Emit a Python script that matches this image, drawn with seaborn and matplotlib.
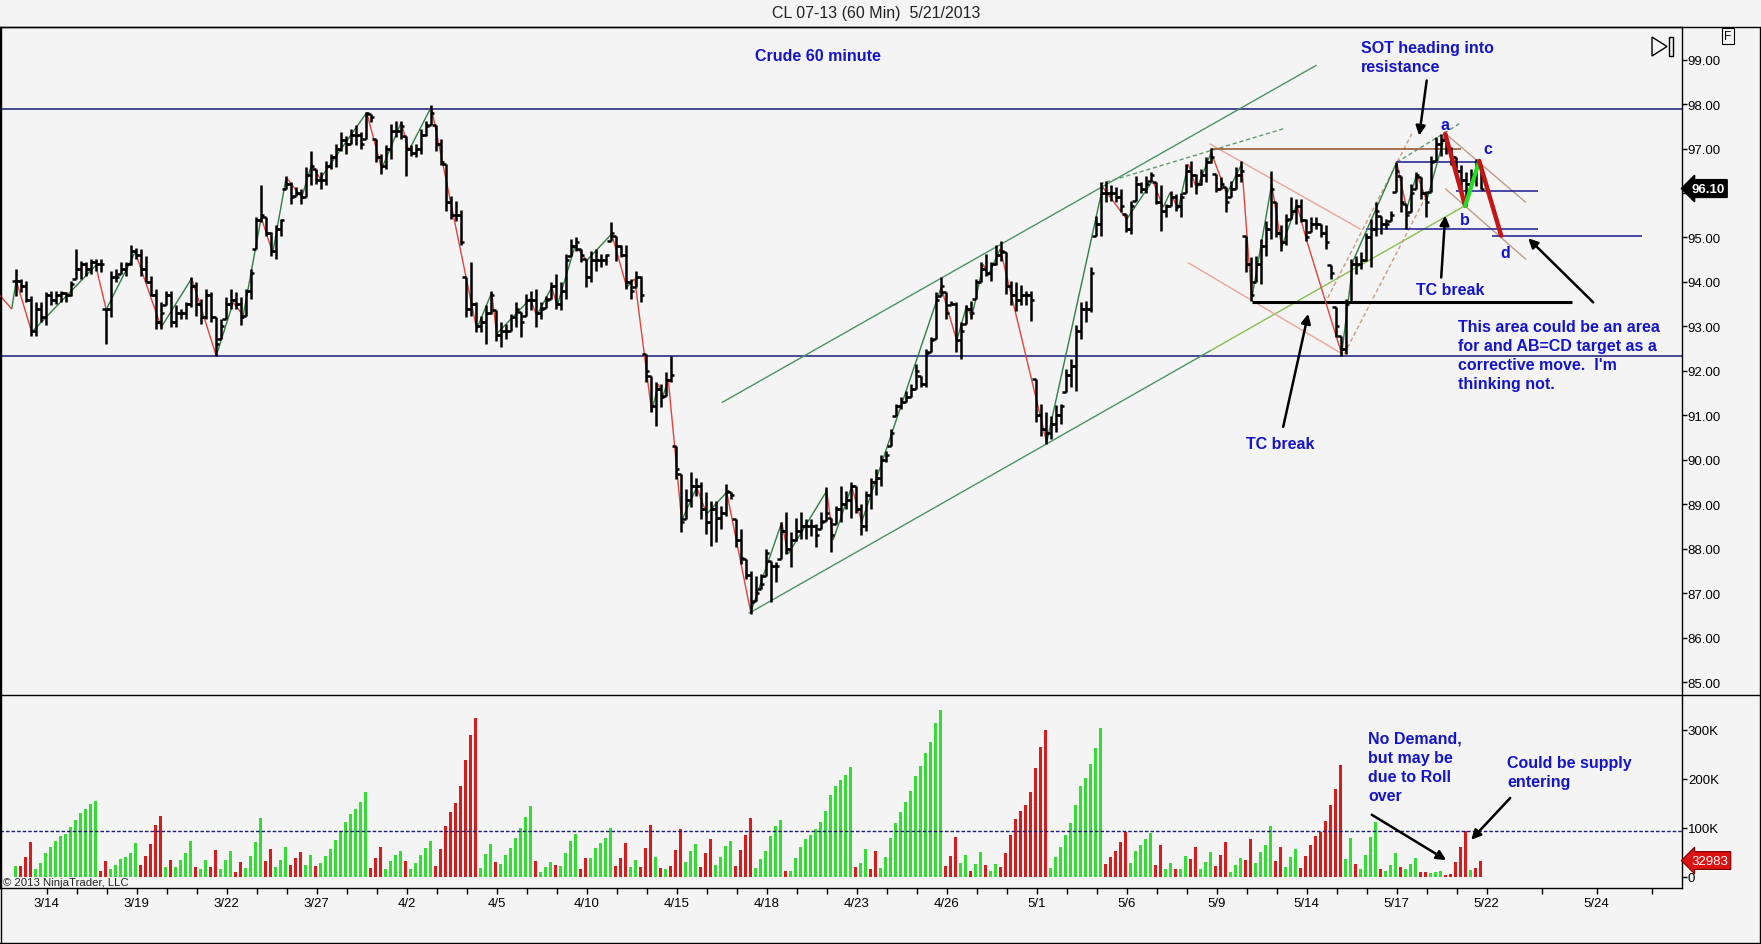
import numpy as np
import pandas as pd
import matplotlib
matplotlib.use('Agg')
import matplotlib.pyplot as plt
import seaborn as sns
from matplotlib.collections import LineCollection
from matplotlib.patches import Polygon, Rectangle
from matplotlib.lines import Line2D

# ---------------------------------------------------------------
# CL 07-13, 60 minute bars (pit session, 6 bars a day), 3/13 .. 5/21
# values, one entry per bar
# ---------------------------------------------------------------
bar_high = [
    94.29, 94.07, 94.03, 93.69, 93.54, 93.54, 93.77, 93.80, 93.80, 93.80,
    93.77, 94.03, 94.74, 94.48, 94.44, 94.52, 94.52, 94.52, 93.39, 94.25,
    94.29, 94.44, 94.44, 94.82, 94.76, 94.74, 94.59, 94.14, 93.84, 93.54,
    93.80, 93.80, 93.47, 93.39, 93.54, 94.10, 93.99, 93.62, 93.84, 93.77,
    93.21, 93.17, 93.65, 93.84, 93.77, 93.65, 93.84, 94.29, 95.45, 96.17,
    95.45, 95.12, 95.27, 95.42, 96.39, 96.24, 96.13, 96.09, 96.58, 96.95,
    96.54, 96.47, 96.73, 96.88, 97.10, 97.37, 97.29, 97.44, 97.52, 97.37,
    97.83, 97.78, 97.22, 96.88, 97.07, 97.55, 97.63, 97.63, 97.29, 97.07,
    97.10, 97.44, 97.63, 97.97, 97.52, 97.22, 96.65, 95.94, 95.83, 95.61,
    94.11, 94.44, 93.54, 93.24, 93.47, 93.80, 93.36, 93.09, 93.05, 93.28,
    93.54, 93.32, 93.73, 93.80, 93.84, 93.54, 93.69, 93.99, 94.18, 93.99,
    94.63, 94.97, 95.01, 94.74, 94.52, 94.70, 94.74, 94.63, 94.63, 95.34,
    95.04, 94.82, 94.82, 94.07, 94.25, 94.14, 92.38, 91.89, 91.74, 91.70,
    91.97, 92.34, 90.32, 89.68, 89.34, 89.72, 89.60, 89.49, 89.27, 89.08,
    89.08, 88.97, 89.45, 89.27, 88.67, 88.44, 87.77, 87.50, 87.39, 87.43,
    88.00, 87.73, 87.69, 88.59, 88.82, 88.37, 88.70, 88.82, 88.67, 88.67,
    88.55, 88.82, 89.38, 88.70, 88.97, 89.40, 89.30, 89.50, 89.40, 89.00,
    89.30, 89.60, 89.80, 90.10, 90.20, 90.69, 91.25, 91.40, 91.55, 91.70,
    92.15, 91.89, 92.49, 92.75, 93.77, 94.10, 93.77, 93.58, 93.54, 93.09,
    93.47, 93.58, 94.07, 94.44, 94.63, 94.44, 94.82, 94.91, 94.67, 94.03,
    93.99, 93.92, 93.80, 93.80, 91.82, 91.25, 91.07, 90.99, 91.22, 91.25,
    92.04, 92.27, 93.02, 93.54, 93.58, 94.33, 95.49, 96.24, 96.28, 96.17,
    96.13, 96.09, 95.53, 95.83, 96.39, 96.24, 96.39, 96.47, 96.24, 96.17,
    95.75, 96.05, 95.98, 96.01, 96.65, 96.73, 96.43, 96.54, 96.80, 97.01,
    96.43, 96.35, 96.13, 96.28, 96.58, 96.73, 95.04, 94.55, 94.59, 94.97,
    95.38, 96.50, 95.79, 95.27, 95.53, 95.90, 95.87, 95.87, 95.42, 95.45,
    95.45, 95.30, 95.27, 94.37, 93.43, 92.79, 93.62, 94.52, 94.59, 94.67,
    95.11, 95.42, 95.79, 95.49, 95.42, 95.60, 96.69, 96.39, 95.75, 96.20,
    96.47, 96.35, 96.05, 96.84, 97.25, 97.33, 97.33, 97.03, 96.80, 96.62,
    96.47, 96.54, 96.76, 96.62,
]
bar_low = [
    93.69, 93.77, 93.54, 92.79, 92.79, 93.09, 93.02, 93.47, 93.50, 93.54,
    93.54, 93.69, 94.07, 94.07, 94.14, 94.18, 94.25, 94.22, 92.61, 93.21,
    93.99, 94.18, 94.14, 94.37, 94.52, 94.14, 93.99, 93.69, 92.94, 92.94,
    93.47, 92.98, 92.98, 93.17, 93.17, 93.43, 93.24, 93.06, 93.17, 93.09,
    92.34, 92.72, 93.17, 93.39, 93.39, 93.02, 93.24, 93.62, 94.74, 95.34,
    95.04, 94.59, 94.52, 95.04, 96.09, 95.75, 95.94, 95.75, 95.90, 96.17,
    96.20, 96.09, 96.17, 96.54, 96.58, 96.95, 96.88, 97.10, 97.07, 96.99,
    97.22, 97.59, 96.69, 96.43, 96.54, 96.77, 97.25, 97.22, 96.39, 96.84,
    96.80, 96.88, 97.29, 97.52, 96.95, 96.62, 95.60, 95.42, 95.38, 94.82,
    93.20, 93.24, 92.87, 92.87, 92.60, 93.28, 92.68, 92.53, 92.72, 92.90,
    92.98, 92.76, 93.24, 93.36, 92.98, 93.17, 93.42, 93.62, 93.39, 93.36,
    93.62, 94.59, 94.70, 94.44, 93.88, 93.99, 94.25, 94.33, 94.37, 94.93,
    94.48, 94.55, 93.84, 93.62, 93.88, 93.54, 91.74, 91.07, 90.77, 91.18,
    91.44, 91.74, 89.57, 88.37, 88.67, 88.93, 89.19, 88.67, 88.33, 88.07,
    88.14, 88.44, 88.74, 89.12, 88.03, 87.65, 87.31, 86.53, 86.83, 87.09,
    87.39, 86.79, 87.24, 87.77, 87.88, 87.58, 88.18, 88.22, 88.22, 88.29,
    88.03, 88.44, 88.63, 87.92, 88.55, 88.60, 88.90, 88.70, 88.80, 88.30,
    88.40, 88.90, 89.20, 89.40, 89.95, 90.32, 90.99, 91.14, 91.29, 91.40,
    91.59, 91.63, 91.63, 92.42, 92.72, 93.69, 93.17, 93.47, 92.42, 92.27,
    93.05, 93.17, 93.62, 93.99, 94.14, 94.03, 94.37, 94.48, 93.73, 93.47,
    93.35, 93.47, 93.47, 93.13, 90.84, 90.54, 90.35, 90.47, 90.62, 90.80,
    91.52, 91.63, 91.55, 92.72, 93.09, 93.32, 95.04, 95.04, 95.79, 95.83,
    95.79, 95.57, 95.12, 95.08, 95.83, 96.01, 96.01, 96.28, 95.75, 95.15,
    95.45, 95.71, 95.60, 95.45, 96.01, 96.13, 95.98, 96.17, 96.24, 96.67,
    96.02, 96.09, 95.57, 95.90, 96.09, 96.24, 94.22, 93.58, 93.99, 93.95,
    94.59, 94.97, 95.00, 94.70, 94.82, 95.42, 95.30, 95.34, 94.93, 95.12,
    95.19, 95.00, 94.74, 94.07, 92.75, 92.34, 92.38, 93.54, 94.18, 94.29,
    94.48, 94.33, 95.04, 95.08, 95.19, 95.38, 96.02, 95.57, 95.19, 95.57,
    96.09, 95.87, 95.45, 96.02, 96.73, 96.84, 96.88, 96.62, 96.39, 96.09,
    95.71, 96.16, 96.16, 96.09,
]
bar_close = [
    94.03, 93.90, 93.60, 92.90, 93.40, 93.20, 93.70, 93.60, 93.70, 93.75,
    93.70, 93.95, 94.30, 94.40, 94.30, 94.45, 94.40, 94.40, 93.40, 94.10,
    94.10, 94.30, 94.40, 94.70, 94.60, 94.30, 94.00, 93.70, 93.10, 93.30,
    93.70, 93.10, 93.30, 93.30, 93.50, 93.90, 93.50, 93.20, 93.70, 93.20,
    92.60, 93.00, 93.50, 93.60, 93.50, 93.20, 93.80, 94.20, 95.40, 95.50,
    95.10, 94.70, 95.20, 95.40, 96.20, 95.90, 96.00, 95.90, 96.40, 96.60,
    96.30, 96.30, 96.60, 96.80, 97.00, 97.20, 97.10, 97.30, 97.30, 97.10,
    97.80, 97.70, 96.80, 96.60, 97.00, 97.40, 97.40, 97.50, 97.00, 96.90,
    97.00, 97.30, 97.50, 97.80, 97.10, 96.70, 95.80, 95.50, 95.50, 94.90,
    93.40, 93.50, 93.00, 93.10, 93.30, 93.70, 92.80, 92.90, 92.90, 93.20,
    93.40, 93.10, 93.60, 93.60, 93.30, 93.40, 93.60, 93.90, 93.50, 93.80,
    94.50, 94.80, 94.90, 94.60, 94.10, 94.50, 94.50, 94.50, 94.60, 95.10,
    94.80, 94.60, 94.00, 93.80, 94.10, 93.70, 92.00, 91.20, 91.60, 91.40,
    91.80, 91.90, 89.80, 88.60, 89.10, 89.40, 89.40, 88.90, 88.60, 88.90,
    88.70, 88.80, 89.30, 89.20, 88.20, 87.80, 87.40, 86.80, 87.00, 87.20,
    87.90, 87.60, 87.60, 88.40, 88.00, 88.20, 88.40, 88.50, 88.50, 88.50,
    88.30, 88.60, 88.80, 88.30, 88.90, 89.00, 89.10, 89.40, 88.90, 88.50,
    89.20, 89.50, 89.60, 90.00, 90.10, 90.60, 91.20, 91.30, 91.40, 91.60,
    92.00, 91.70, 92.40, 92.70, 93.60, 93.90, 93.30, 93.50, 92.70, 92.90,
    93.40, 93.30, 94.00, 94.30, 94.20, 94.40, 94.60, 94.70, 93.90, 93.70,
    93.60, 93.70, 93.70, 93.60, 91.00, 90.70, 90.60, 90.80, 91.00, 91.20,
    91.90, 92.10, 92.90, 93.40, 93.40, 94.20, 95.30, 96.00, 96.00, 96.00,
    95.90, 95.70, 95.20, 95.70, 96.20, 96.10, 96.20, 96.40, 95.80, 95.60,
    95.70, 95.90, 95.70, 95.90, 96.50, 96.40, 96.20, 96.40, 96.70, 96.80,
    96.10, 96.20, 95.80, 96.10, 96.40, 96.50, 94.40, 93.70, 94.40, 94.80,
    95.20, 96.10, 95.10, 94.90, 95.40, 95.60, 95.70, 95.40, 95.00, 95.30,
    95.30, 95.10, 94.90, 94.20, 93.00, 92.50, 93.50, 94.40, 94.40, 94.50,
    95.00, 95.20, 95.60, 95.30, 95.30, 95.50, 96.50, 95.80, 95.50, 96.00,
    96.40, 96.00, 95.80, 96.70, 97.10, 97.20, 97.00, 96.80, 96.50, 96.30,
    96.20, 96.40, 96.60, 96.10,
]

# volume per bar, in thousands of contracts
vol_k = [
    22, 22, 41, 71, 16, 28, 48, 61, 72, 84,
    87, 102, 116, 130, 138, 148, 155, 12, 32, 16,
    24, 36, 40, 49, 69, 24, 43, 67, 105, 124,
    20, 35, 20, 35, 48, 73, 20, 16, 34, 20,
    55, 16, 34, 53, 10, 31, 18, 43, 71, 120,
    33, 56, 20, 35, 61, 24, 39, 51, 24, 45,
    22, 28, 43, 56, 75, 93, 112, 127, 139, 152,
    173, 18, 39, 61, 16, 32, 44, 52, 33, 16,
    27, 45, 59, 73, 22, 57, 104, 133, 151, 185,
    238, 289, 324, 18, 46, 67, 30, 26, 44, 59,
    79, 99, 122, 145, 32, 10, 19, 31, 24, 22,
    48, 73, 87, 16, 38, 39, 59, 69, 79, 100,
    22, 38, 69, 20, 34, 20, 59, 105, 41, 18,
    16, 22, 54, 97, 30, 52, 67, 20, 48, 77,
    24, 40, 63, 73, 22, 54, 85, 120, 18, 36,
    52, 83, 103, 116, 12, 12, 38, 61, 77, 86,
    97, 112, 134, 167, 185, 198, 207, 224, 20, 27,
    56, 16, 52, 18, 40, 79, 110, 132, 152, 175,
    205, 226, 252, 275, 314, 340, 22, 42, 81, 28,
    44, 12, 26, 50, 24, 12, 26, 20, 48, 85,
    118, 134, 146, 173, 222, 264, 299, 18, 40, 61,
    85, 110, 146, 185, 201, 230, 263, 303, 26, 40,
    52, 71, 92, 28, 52, 65, 77, 89, 24, 65,
    16, 27, 16, 16, 42, 36, 61, 16, 30, 50,
    22, 44, 71, 10, 24, 39, 34, 77, 28, 50,
    65, 104, 32, 61, 20, 40, 56, 18, 42, 65,
    83, 92, 114, 146, 179, 228, 36, 79, 26, 16,
    44, 81, 112, 16, 12, 24, 48, 20, 16, 26,
    38, 10, 10, 8, 10, 12, 3, 5, 30, 61,
    94, 14, 18, 33,
]
# g = up volume (green), r = down volume (red), ten bars per chunk
vol_dir = "".join([
    "grrrgggggg", "gggggggrrg", "gggggrrrrr", "grggggrggr", "rgggrrgggg",
    "rrgggrrrgg", "rggggggggg", "grrrggggrg", "ggggrrrrrr", "rrrgggrggg",
    "ggggrgggrg", "gggrrggggg", "rrrggrrrgr", "grrrgggrrr", "ggggrrrrgg",
    "ggggrggggg", "ggggggggrg", "grrggggggg", "ggggggrrrg", "grggrggrrr",
    "rrrrrrrggg", "ggggggggrr", "rrrgggggrr", "ggrggrrggg", "rrrgggrrgg",
    "ggrrgggrrr", "rrrrrrggrg", "gggrgggrgg", "grrgggrrrr", "rgrr",
])

# zigzag swing points (bar index, price)
zz_idx = [-3.1, -0.8, 0.1, 3.2, 16.0, 18.1, 23.9, 29.1, 35.2, 40.1,
          43.5, 45.5, 49.1, 51.4, 54.1, 57.2, 59.2, 60.9, 70.2, 73.2,
          77.1, 78.6, 83.1, 92.2, 95.2, 96.2, 102.9, 104.2, 107.2, 108.3,
          111.9, 114.2, 119.2, 122.2, 123.8, 127.2, 128.5, 129.5, 130.5, 133.2,
          136.2, 138.2, 142.2, 147.0, 153.2, 154.5, 162.2, 163.5, 167.2, 169.2,
          185.1, 188.2, 190.2, 191.2, 193.5, 194.5, 196.9, 206.2, 217.4, 222.2,
          227.4, 229.5, 230.9, 232.5, 234.5, 236.2, 239.1, 242.2, 245.2, 247.2,
          251.2, 253.2, 256.2, 258.2, 265.2, 267.5, 276.2, 278.2, 280.2, 282.2,
          285.9, 289.9, 292.7]
zz_price = [93.69, 93.39, 94.03, 92.87, 94.37, 93.38, 94.67, 92.98, 94.08, 92.34,
            93.54, 93.24, 95.45, 94.65, 96.35, 95.90, 96.65, 96.32, 97.81, 96.54,
            97.59, 96.95, 97.93, 92.94, 93.76, 92.83, 93.62, 93.24, 93.88, 93.47,
            94.82, 94.48, 95.08, 93.88, 94.07, 91.07, 91.70, 91.44, 91.82, 88.63,
            89.38, 88.78, 89.27, 86.57, 88.59, 87.88, 89.30, 88.20, 89.40, 88.60,
            93.88, 92.68, 93.47, 93.20, 94.40, 94.14, 94.74, 90.39, 96.13, 95.41,
            96.28, 95.68, 96.01, 95.64, 96.65, 96.09, 96.91, 95.98, 96.65, 93.62,
            96.20, 94.78, 95.75, 94.93, 92.38, 94.48, 96.69, 95.64, 96.43, 95.83,
            97.33, 95.71, 96.72]

# hand drawn objects, (bar index, price) end points
channel_upper = [(141.3, 91.29), (260.1, 98.87)]
channel_lower = [(146.7, 86.55), (238.9, 92.45)]
channel_lower_end = [(238.9, 92.45), (289.8, 95.71)]
dashed_top_1 = [(216.8, 96.20), (254.0, 97.46)]
dashed_top_2 = [(276.2, 96.69), (289.2, 97.59)]
down_channel = [[(238.9, 97.10), (268.9, 95.19)], [(234.5, 94.43), (265.3, 92.38)]]
up_channel = [[(262.4, 93.64), (279.2, 97.33)], [(265.7, 92.38), (281.8, 95.87)]]
abcd_channel = [[(286.0, 97.33), (302.0, 95.79)], [(286.0, 96.09), (302.0, 94.51)]]
brown_level = (239.0, 289.0, 97.00)
black_level = (247.2, 311.3, 93.55)
blue_levels = [(276.0, 292.0, 96.69), (288.1, 304.5, 96.05),
               (270.0, 304.5, 95.19), (295.3, 325.2, 95.04)]
abcd_idx = [285.9, 289.9, 292.7, 297.1]
abcd_price = [97.33, 95.71, 96.72, 95.04]

resistance = 97.90
support = 92.34
vol_line_k = 93
last_price = 96.10
last_volume = 32983

day_labels = ['3/14', '3/19', '3/22', '3/27', '4/2', '4/5', '4/10', '4/15', '4/18',
              '4/23', '4/26', '5/1', '5/6', '5/9', '5/14', '5/17', '5/22']
future_label = '5/24'
price_ticks = list(range(85, 100))
vol_ticks = [0, 100, 200, 300]
vol_tick_labels = ['0', '100K', '200K', '300K']

n = len(bar_close)

# ---------------------------------------------------------------
sns.set_style('white', {'axes.facecolor': '#f4f4f4'})
plt.rcParams['font.family'] = ['Liberation Sans', 'DejaVu Sans']

W, H = 1761, 945
bg = '#f4f4f4'
blue = '#1414c8'
fig = plt.figure(figsize=(W / 100, H / 100), dpi=100, facecolor=bg)


def fx(px):
    return px / W


def fy(py):
    return 1 - py / H


ax = fig.add_axes([0, fy(695.5), fx(1682), fy(28) - fy(695.5)], facecolor=bg)
axv = fig.add_axes([0, fy(889.3), fx(1682), fy(696.5) - fy(889.3)], facecolor=bg)

idx = np.arange(n)
hi = np.array(bar_high)
lo = np.array(bar_low)
cl = np.array(bar_close)
# open tick drawn at the previous close (kept inside the bar)
op = np.clip(np.r_[cl[0], cl[:-1]], lo, hi)

x_left = -15.7 / 5
x_right = (1682 - 15.7) / 5

# reference levels
ax.axhline(resistance, color='#1a1a78', lw=1.1)
ax.axhline(support, color='#1a1a78', lw=1.1)


def seg(pts, **kw):
    (x0, y0), (x1, y1) = pts
    ax.plot([x0, x1], [y0, y1], **kw)


seg(channel_upper, color='#4a9464', lw=1.0)
seg(channel_lower, color='#4a9464', lw=1.0)
seg(channel_lower_end, color='#86bf52', lw=1.0)
seg(dashed_top_1, color='#5c9c70', lw=1.0, ls=(0, (3, 2)))
seg(dashed_top_2, color='#5c9c70', lw=1.0, ls=(0, (3, 2)))
for pts in down_channel:
    seg(pts, color='#eba596', lw=1.0)
for pts in up_channel:
    seg(pts, color='#c99a7e', lw=1.0, ls=(0, (3, 2)))
for pts in abcd_channel:
    seg(pts, color='#bf9c88', lw=1.0)
ax.hlines(brown_level[2], brown_level[0], brown_level[1], color='#9c5a34', lw=1.2)
ax.hlines(black_level[2], black_level[0], black_level[1], color='black', lw=2.2)
for x0, x1, p in blue_levels:
    ax.hlines(p, x0, x1, color='#1a1a90', lw=1.1)

# zigzag
pts = np.column_stack([zz_idx, zz_price])
segs = np.stack([pts[:-1], pts[1:]], axis=1)
cols = ['#2f7f42' if b[1] > a[1] else '#e0443c' for a, b in zip(pts[:-1], pts[1:])]
ax.add_collection(LineCollection(segs, colors=cols, linewidths=1.0, zorder=3))

# OHLC bars
ax.vlines(idx, lo, hi, color='black', lw=1.8, zorder=4)
ax.hlines(op, idx - 0.7, idx, color='black', lw=1.8, zorder=4)
ax.hlines(cl, idx, idx + 0.7, color='black', lw=1.8, zorder=4)

# a-b-c-d legs
ax.plot(abcd_idx[0:2], abcd_price[0:2], color='#c41414', lw=3.2, solid_capstyle='round', zorder=5)
ax.plot(abcd_idx[1:3], abcd_price[1:3], color='#22dd22', lw=3.0, solid_capstyle='round', zorder=5)
ax.plot(abcd_idx[2:4], abcd_price[2:4], color='#c41414', lw=3.2, solid_capstyle='round', zorder=5)

ax.set_xlim(x_left, x_right)
ax.set_ylim(99 - (695.5 - 60.6) / 44.46, 99 + (60.6 - 28) / 44.46)

# annotations
tkw = dict(color=blue, fontweight='bold', fontsize=11.5, zorder=6)
ax.text(160.4, 99.10, 'Crude 60 minute', ha='center', va='center', **tkw)
ax.text(269.1, 99.45, 'SOT heading into\nresistance', ha='left', va='top', linespacing=1.35, **tkw)
ax.text(285.9, 97.54, 'a', ha='center', va='center', **tkw)
ax.text(289.9, 95.41, 'b', ha='center', va='center', **tkw)
ax.text(294.4, 97.00, 'c', ha='center', va='center', **tkw)
ax.text(297.9, 94.67, 'd', ha='center', va='center', **tkw)
ax.text(286.9, 93.82, 'TC break', ha='center', va='center', **tkw)
ax.text(252.9, 90.36, 'TC break', ha='center', va='center', **tkw)
ax.text(288.4, 93.17, "This area could be an area\nfor and AB=CD target as a\ncorrective move.  I'm\nthinking not.",
        ha='left', va='top', linespacing=1.35, **tkw)

akw = dict(arrowstyle='-|>', color='black', lw=1.8, mutation_scale=14, shrinkA=0, shrinkB=0)
ax.annotate('', xy=(280.7, 97.29), xytext=(282.2, 98.53), arrowprops=akw, zorder=6)
ax.annotate('', xy=(285.9, 95.49), xytext=(285.1, 94.10), arrowprops=akw, zorder=6)
ax.annotate('', xy=(258.5, 93.28), xytext=(253.5, 90.74), arrowprops=akw, zorder=6)
ax.annotate('', xy=(302.5, 94.98), xytext=(315.5, 93.54), arrowprops=akw, zorder=6)

# price axis on the right; the 96.00 label sits under the last price marker
ax.yaxis.tick_right()
ax.set_yticks(price_ticks)
ax.set_yticklabels(['' if abs(v - last_price) < 0.3 else f'{v:.2f}' for v in price_ticks])
ax.tick_params(axis='y', direction='out', length=3.4, width=1, pad=0.8, labelsize=9.5, colors='black')
ax.tick_params(axis='x', bottom=False, labelbottom=False)
for s in ['left', 'top', 'right']:
    ax.spines[s].set_visible(True)
    ax.spines[s].set_color('black')
    ax.spines[s].set_linewidth(1.0)
ax.spines['bottom'].set_visible(False)
ax.text(1.0 + 9 / 1682, last_price, f'{last_price:.2f}', transform=ax.get_yaxis_transform(),
        ha='left', va='center', color='white', fontweight='bold', fontsize=9.5, zorder=7,
        bbox=dict(boxstyle='larrow,pad=0.22', fc='black', ec='black'), clip_on=False)

# ---------------------------------------------------------------
# volume panel
df = pd.DataFrame({'bar': idx, 'vol': vol_k, 'dir': list(vol_dir)})
sns.barplot(data=df, x='bar', y='vol', hue='dir', palette={'g': '#36dc36', 'r': '#d81c1c'},
            native_scale=True, width=0.5, dodge=False, legend=False, errorbar=None,
            saturation=1, linewidth=0, edgecolor='none', ax=axv)
axv.axhline(vol_line_k, color='#1a1a78', lw=1.0, ls=(0, (2.5, 1.5)))
axv.set_xlim(x_left, x_right)
axv.set_ylim((877.7 - 889.3) / 0.49, (877.7 - 696.5) / 0.49)
axv.set_xlabel('')
axv.set_ylabel('')

axv.annotate('', xy=(286.1, 34), xytext=(271.2, 126.5), arrowprops=akw, zorder=6)
axv.annotate('', xy=(291.1, 75.5), xytext=(298.9, 160.6), arrowprops=akw, zorder=6)
axv.text(270.5, 298, 'No Demand,\nbut may be\ndue to Roll\nover', ha='left', va='top',
         linespacing=1.35, **tkw)
axv.text(298.3, 249, 'Could be supply\nentering', ha='left', va='top', linespacing=1.35, **tkw)
axv.text(3 / 1682, 0.033, '\u00a9 2013 NinjaTrader, LLC', transform=axv.transAxes,
         ha='left', va='center', fontsize=8.2, color='#222222')

axv.yaxis.tick_right()
axv.set_yticks(vol_ticks)
axv.set_yticklabels(vol_tick_labels)
axv.tick_params(axis='y', direction='out', length=3.4, width=1, pad=0.8, labelsize=9.5, colors='black')

# date axis: a tick each day (6 bars), a label every third day; future area wider
major = [6.2 + 18 * j for j in range(len(day_labels))] + [316.2]
minor = [6.2 + 6 * k for k in range(49)] + [305.2, 327.2]
axv.set_xticks(major)
axv.set_xticklabels(day_labels + [future_label])
axv.set_xticks(minor, minor=True)
axv.tick_params(axis='x', which='both', direction='out', length=4.5, width=1, pad=1.5,
                labelsize=9.5, colors='black', bottom=True)
for s in ['left', 'bottom', 'right']:
    axv.spines[s].set_visible(True)
    axv.spines[s].set_color('black')
    axv.spines[s].set_linewidth(1.0)
axv.spines['top'].set_visible(False)
axv.text(1.0 + 9 / 1682, last_volume / 1000, str(last_volume), transform=axv.get_yaxis_transform(),
         ha='left', va='center', color='white', fontsize=9.5, zorder=7,
         bbox=dict(boxstyle='larrow,pad=0.22', fc='#dd1111', ec='#7a0000', lw=0.8), clip_on=False)

# ---------------------------------------------------------------
# frame, title and the two small chart buttons
for (x0, y0, x1, y1) in [(0, 28, W, 28), (0, 696, W, 696), (0, 944, W, 944),
                         (1760, 28, 1760, 944), (0.5, 28, 0.5, 944)]:
    fig.add_artist(Line2D([fx(x0), fx(x1)], [fy(y0), fy(y1)], color='black', lw=1.0))
fig.text(fx(876), fy(13.5), 'CL 07-13 (60 Min)  5/21/2013', ha='center', va='center',
         fontsize=11.5, color='#222222')
fig.add_artist(Polygon([(fx(1652), fy(38)), (fx(1652), fy(57)), (fx(1667), fy(47.5))],
                       closed=True, fill=False, ec='black', lw=1.0, transform=fig.transFigure))
fig.add_artist(Rectangle((fx(1669), fy(57)), fx(4), 19 / H, fill=False, ec='black', lw=1.0,
                         transform=fig.transFigure))
fig.text(fx(1728), fy(37), 'F', ha='center', va='center', fontsize=8.5, color='black',
         bbox=dict(boxstyle='square,pad=0.18', fc='none', ec='black', lw=0.8))

fig.savefig('out.png', dpi=100, facecolor=bg)
